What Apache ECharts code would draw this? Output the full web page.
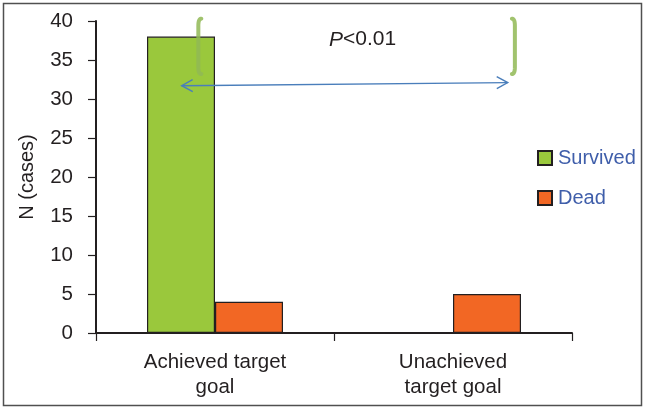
<!DOCTYPE html>
<html>
<head>
<meta charset="utf-8">
<script src="https://cdn.jsdelivr.net/npm/echarts@6/dist/echarts.min.js"></script>
<style>
  html, body { margin: 0; padding: 0; background: #fff; }
  #chart { width: 646px; height: 409px; }
</style>
</head>
<body>
<div id="chart"></div>
<script>
// Outcome counts by whether the target goal was achieved
const categories = ['Achieved target\ngoal', 'Unachieved\ntarget goal'];
const survived = [38, 0];
const dead = [4, 5];
const yTicks = { min: 0, max: 40, interval: 5 };
const pText = '<0.01';
// Arrow endpoints: [category offset, value]
const arrowFrom = [-0.14, 31.7];
const arrowTo = [1.23, 32.1];
// Brace spans (value range) and positions (category offsets)
const braceLeftX = -0.07;
const braceRightX = 1.26;
const braceTop = 40.3;
const braceBottom = 33.2;

const chart = echarts.init(document.getElementById('chart'), null, { renderer: 'canvas' });

const font = 'Liberation Sans, Arial, sans-serif';
const ink = '#231f20';

const option = {
  animation: false,
  backgroundColor: '#fff',
  grid: { left: 96, right: 74, top: 21, bottom: 76, containLabel: false },
  legend: {
    orient: 'vertical',
    left: 537,
    top: 148,
    padding: 0,
    itemWidth: 14,
    itemHeight: 14,
    itemGap: 20,
    icon: 'rect',
    textStyle: { color: '#3f5eaa', fontSize: 20, fontFamily: font, padding: [0, 0, 0, 1] },
    data: ['Survived', 'Dead']
  },
  xAxis: {
    type: 'category',
    data: categories,
    axisLine: { lineStyle: { color: ink, width: 2 } },
    axisTick: { show: true, alignWithLabel: false, length: 8, lineStyle: { color: ink, width: 1.2 } },
    axisLabel: { color: ink, fontSize: 20.5, fontFamily: font, lineHeight: 25, margin: 17 }
  },
  yAxis: {
    type: 'value',
    min: yTicks.min,
    max: yTicks.max,
    interval: yTicks.interval,
    name: 'N (cases)',
    nameLocation: 'middle',
    nameGap: 59,
    nameTextStyle: { color: ink, fontSize: 20, fontFamily: font },
    axisLine: { show: true, lineStyle: { color: ink, width: 2 } },
    axisTick: { show: true, length: 8, lineStyle: { color: ink, width: 1.2 } },
    axisLabel: { color: ink, fontSize: 20.5, fontFamily: font, margin: 23 },
    splitLine: { show: false }
  },
  series: [
    {
      name: 'Survived',
      type: 'bar',
      data: survived,
      barWidth: 68,
      barGap: '0%',
      itemStyle: { color: '#9ac83c', borderColor: ink, borderWidth: 1.2 }
    },
    {
      name: 'Dead',
      type: 'bar',
      data: dead,
      barWidth: 68,
      barGap: '0%',
      itemStyle: { color: '#f26724', borderColor: ink, borderWidth: 1.2 }
    }
  ]
};

chart.setOption(option);

// Annotation layer: significance arrow, braces and p-value, placed through the axes
function px(catPos, val) {
  const x0 = chart.convertToPixel({ xAxisIndex: 0 }, 0);
  const x1 = chart.convertToPixel({ xAxisIndex: 0 }, 1);
  return [x0 + (x1 - x0) * catPos, chart.convertToPixel({ yAxisIndex: 0 }, val)];
}

// Brace outline: short hooks at both ends, curved via a sampled quadratic
function bracePoints(top, bottom, dir) {
  const pts = [];
  const hook = 3, bend = 7, n = 8;
  const quad = (p0, c, p1, t) => [
    (1 - t) * (1 - t) * p0[0] + 2 * (1 - t) * t * c[0] + t * t * p1[0],
    (1 - t) * (1 - t) * p0[1] + 2 * (1 - t) * t * c[1] + t * t * p1[1]
  ];
  const x = top[0];
  for (let i = 0; i <= n; i++) pts.push(quad([x + dir * hook, top[1]], [x, top[1]], [x, top[1] + bend], i / n));
  for (let i = 0; i <= n; i++) pts.push(quad([x, bottom[1] - bend], [x, bottom[1]], [x + dir * hook, bottom[1]], i / n));
  return pts;
}

const a = px(arrowFrom[0], arrowFrom[1]);
const b = px(arrowTo[0], arrowTo[1]);
const lt = px(braceLeftX, braceTop), lb = px(braceLeftX, braceBottom);
const rt = px(braceRightX, braceTop), rb = px(braceRightX, braceBottom);
const head = 11, half = 6;
const ang = Math.atan2(b[1] - a[1], b[0] - a[0]);
function headPts(p, dir) {
  const c = Math.cos(ang) * dir, s = Math.sin(ang) * dir;
  return [
    [p[0] + head * c - half * s, p[1] + head * s + half * c],
    [p[0], p[1]],
    [p[0] + head * c + half * s, p[1] + head * s - half * c]
  ];
}
const braceStyle = { stroke: 'rgba(145,185,85,0.85)', lineWidth: 4, lineCap: 'round', lineJoin: 'round', fill: null };
const arrowStyle = { stroke: '#4a7ebb', lineWidth: 1.4, fill: null };

chart.setOption({
  graphic: [
    {
      type: 'rect',
      shape: { x: 3.5, y: 3.5, width: 638, height: 402 },
      style: { stroke: '#505050', lineWidth: 1.5, fill: null },
      silent: true
    },
    { type: 'polyline', shape: { points: bracePoints(lt, lb, 1) }, style: braceStyle, z: 10 },
    { type: 'polyline', shape: { points: bracePoints(rt, rb, -1) }, style: braceStyle, z: 10 },
    {
      type: 'line',
      shape: { x1: a[0], y1: a[1], x2: b[0], y2: b[1] },
      style: arrowStyle, z: 10
    },
    { type: 'polyline', shape: { points: headPts(a, 1) }, style: arrowStyle, z: 10 },
    { type: 'polyline', shape: { points: headPts(b, -1) }, style: arrowStyle, z: 10 },
    {
      type: 'text',
      x: (lt[0] + rt[0]) / 2 + 6,
      y: lt[1] + 21,
      style: {
        text: '{p|P}{n|' + pText + '}',
        align: 'center',
        verticalAlign: 'middle',
        rich: {
          p: { fontStyle: 'italic', fontSize: 21, fontFamily: font, fill: ink },
          n: { fontSize: 21, fontFamily: font, fill: ink }
        }
      },
      z: 10
    }
  ]
});
</script>
</body>
</html>
